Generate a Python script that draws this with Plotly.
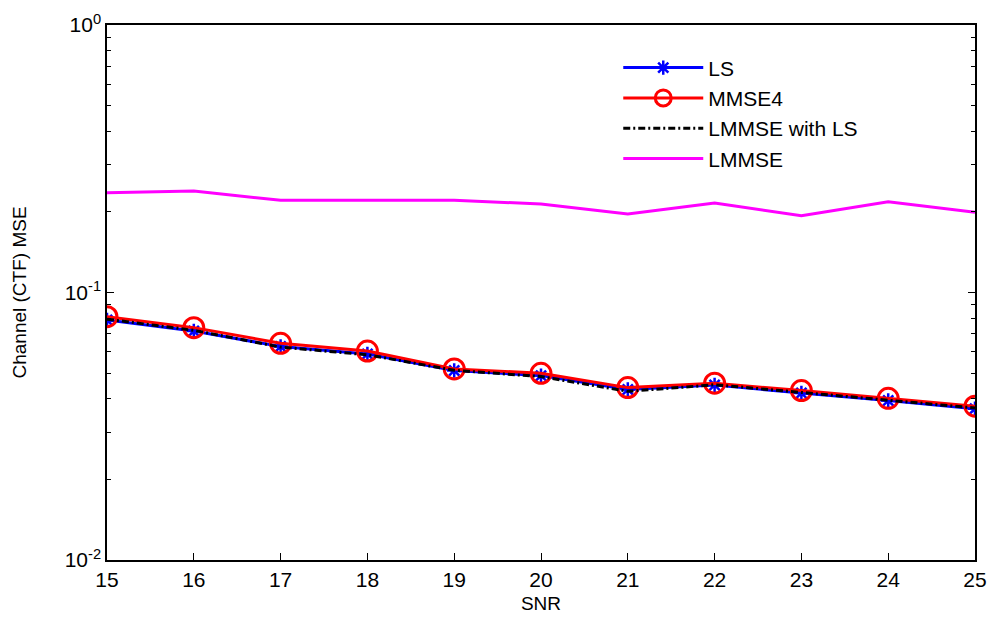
import plotly.graph_objects as go

snr = [15, 16, 17, 18, 19, 20, 21, 22, 23, 24, 25]

mse_ls = [0.0789, 0.0718, 0.0628, 0.0589, 0.0511, 0.0489, 0.0434, 0.0451, 0.0421, 0.0395, 0.0368]
mse_mmse4 = [0.0812, 0.0739, 0.0646, 0.0604, 0.0518, 0.0499, 0.0441, 0.0458, 0.0430, 0.0402, 0.0376]
mse_lmmse_ls = [0.0795, 0.0722, 0.0625, 0.0585, 0.0512, 0.0485, 0.0427, 0.0452, 0.0423, 0.0396, 0.0370]
mse_lmmse = [0.236, 0.2395, 0.2212, 0.2212, 0.2212, 0.2142, 0.1965, 0.2161, 0.1937, 0.2185, 0.1995]

y_tickvals = [0.01, 0.1, 1]
y_ticktext = ["10<sup>-2</sup>", "10<sup>-1</sup>", "10<sup>0</sup>"]
y_minor = [k * 10.0 ** e for e in (-2, -1) for k in range(2, 10)]

FONT = "Liberation Sans, Arial, sans-serif"

fig = go.Figure()
fig.add_trace(go.Scatter(
    x=snr, y=mse_ls, name="LS", mode="lines+markers",
    line=dict(color="#0000FF", width=3),
    marker=dict(symbol="asterisk", size=12, color="#0000FF",
                line=dict(color="#0000FF", width=2.5)),
))
fig.add_trace(go.Scatter(
    x=snr, y=mse_mmse4, name="MMSE4", mode="lines+markers",
    line=dict(color="#FF0000", width=3),
    marker=dict(symbol="circle-open", size=20, color="#FF0000",
                line=dict(color="#FF0000", width=3)),
))
fig.add_trace(go.Scatter(
    x=snr, y=mse_lmmse_ls, name="LMMSE with LS", mode="lines",
    line=dict(color="#000000", width=3, dash="7px,3px,2px,3px"),
))
fig.add_trace(go.Scatter(
    x=snr, y=mse_lmmse, name="LMMSE", mode="lines",
    line=dict(color="#FF00FF", width=3),
))

fig.update_layout(
    width=999, height=617,
    margin=dict(l=107, r=24, t=25, b=57),
    paper_bgcolor="white", plot_bgcolor="white",
    font=dict(family=FONT, color="black", size=21),
    showlegend=True,
    legend=dict(
        x=0.589, y=0.958, xanchor="left", yanchor="top",
        bgcolor="rgba(255,255,255,0)", borderwidth=0,
        font=dict(family=FONT, size=21, color="black"),
        itemwidth=80, tracegroupgap=0,
    ),
)

fig.update_xaxes(
    range=[15, 25], tickvals=snr, ticks="inside", ticklen=7,
    tickcolor="black", tickwidth=1, automargin=False,
    ticklabelstandoff=0,
    showline=True, linecolor="black", linewidth=1.5, mirror=True,
    showgrid=False, zeroline=False,
    tickfont=dict(family=FONT, size=21, color="black"),
    title=dict(text="SNR", font=dict(family=FONT, size=19, color="black"), standoff=7),
)
fig.update_yaxes(
    type="log", range=[-2, 0], automargin=False,
    tickmode="array", tickvals=y_tickvals, ticktext=y_ticktext,
    ticks="inside", ticklen=7, tickcolor="black", tickwidth=1,
    minor=dict(tickmode="array", tickvals=y_minor, ticks="inside",
               ticklen=4, tickcolor="black", showgrid=False),
    showline=True, linecolor="black", linewidth=1.5, mirror="ticks",
    showgrid=False, zeroline=False,
    tickfont=dict(family=FONT, size=21, color="black"),
    title=dict(text="Channel (CTF) MSE", font=dict(family=FONT, size=19, color="black"), standoff=33),
)

fig.write_html("out.html")
